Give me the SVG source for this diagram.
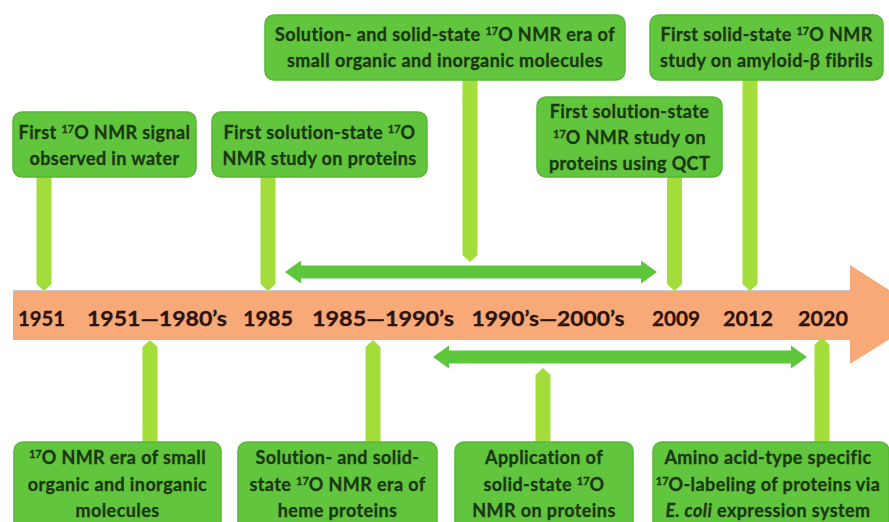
<svg xmlns="http://www.w3.org/2000/svg" width="889" height="522" viewBox="0 0 889 522">
<style>
.box{fill:#61c53d;stroke:#58b736;stroke-width:1.5}
.conn{fill:#a2dd3c}
.harr{fill:#5dc63b}
.bt{font-family:Lato,"Open Sans",sans-serif;font-weight:700;font-size:18px;letter-spacing:0.4px;fill:#1b3710;text-anchor:middle;stroke:#1b3710;stroke-width:0.3}
.sup{font-size:11px;letter-spacing:0}
.yr{font-family:Lato,"Open Sans",sans-serif;font-weight:700;font-size:20px;fill:#2b130a;text-anchor:middle;stroke:#2b130a;stroke-width:0.3}
</style>
<rect width="889" height="522" fill="#ffffff"/>
<g id="timeline">
<path d="M13,290 H850 V265 L928,315 L850,364 V340 H13 Z" fill="#f8a978"/>
<line x1="13" y1="290.5" x2="850" y2="290.5" stroke="#c9c8d6" stroke-width="1"/>
<text class="yr" x="41.5" y="326" textLength="47" lengthAdjust="spacingAndGlyphs">1951</text>
<text class="yr" x="157" y="326" textLength="140" lengthAdjust="spacingAndGlyphs">1951—1980’s</text>
<text class="yr" x="268" y="326" textLength="50" lengthAdjust="spacingAndGlyphs">1985</text>
<text class="yr" x="383" y="326" textLength="142" lengthAdjust="spacingAndGlyphs">1985—1990’s</text>
<text class="yr" x="548" y="326" textLength="153" lengthAdjust="spacingAndGlyphs">1990’s—2000’s</text>
<text class="yr" x="676" y="326" textLength="48" lengthAdjust="spacingAndGlyphs">2009</text>
<text class="yr" x="748" y="326" textLength="50" lengthAdjust="spacingAndGlyphs">2012</text>
<text class="yr" x="823" y="326" textLength="50" lengthAdjust="spacingAndGlyphs">2020</text>
</g>
<g id="connectors">
<path class="conn" d="M36.5,176 H51.5 V284 L44,291 L36.5,284 Z"/>
<path class="conn" d="M260.5,176 H275.5 V284 L268,291 L260.5,284 Z"/>
<path class="conn" d="M462.5,80 H477.5 V255 L470,262 L462.5,255 Z"/>
<path class="conn" d="M667,177 H682 V284 L674.5,291 L667,284 Z"/>
<path class="conn" d="M742.5,80 H757.5 V284 L750,291 L742.5,284 Z"/>
<path class="conn" d="M142.5,442 V347 L150,340 L157.5,347 V442 Z"/>
<path class="conn" d="M365.5,442 V347 L373,340 L380.5,347 V442 Z"/>
<path class="conn" d="M535.5,442 V375 L543,368 L550.5,375 V442 Z"/>
<path class="conn" d="M814.5,442 V345 L822,337 L829.5,345 V442 Z"/>
<path class="harr" d="M285,272 L301,260.5 V265.5 H641 V260.5 L657,272 L641,283.5 V278.5 H301 V283.5 Z"/>
<path class="harr" d="M433,357 L449,345.5 V350.5 H791 V345.5 L807,357 L791,368.5 V363.5 H449 V368.5 Z"/>
</g>
<g id="node-1951">
<rect class="box" x="13" y="112" width="183" height="65" rx="9"/>
<text class="bt" x="104.5" y="139">First <tspan class="sup" dy="-6">17</tspan><tspan dy="6">O NMR signal</tspan></text>
<text class="bt" x="104.5" y="165">observed in water</text>
</g>
<g id="node-1985">
<rect class="box" x="212" y="112" width="215" height="65" rx="9"/>
<text class="bt" x="319.5" y="139">First solution-state <tspan class="sup" dy="-6">17</tspan><tspan dy="6">O</tspan></text>
<text class="bt" x="319.5" y="165">NMR study on proteins</text>
</g>
<g id="node-top-era">
<rect class="box" x="265" y="15" width="360" height="65" rx="9"/>
<text class="bt" x="445" y="41">Solution- and solid-state <tspan class="sup" dy="-6">17</tspan><tspan dy="6">O NMR era of</tspan></text>
<text class="bt" x="445" y="67">small organic and inorganic molecules</text>
</g>
<g id="node-2009">
<rect class="box" x="537" y="97" width="185" height="80" rx="9"/>
<text class="bt" x="629.5" y="118">First solution-state</text>
<text class="bt" x="629.5" y="144"><tspan class="sup" dy="-6">17</tspan><tspan dy="6">O NMR study on</tspan></text>
<text class="bt" x="629.5" y="170">proteins using QCT</text>
</g>
<g id="node-2012">
<rect class="box" x="650" y="15" width="233" height="65" rx="9"/>
<text class="bt" x="766.5" y="41">First solid-state <tspan class="sup" dy="-6">17</tspan><tspan dy="6">O NMR</tspan></text>
<text class="bt" x="766.5" y="67">study on amyloid-β fibrils</text>
</g>
<g id="node-small-molecules">
<rect class="box" x="14" y="442" width="207" height="95" rx="9"/>
<text class="bt" x="117.5" y="464"><tspan class="sup" dy="-6">17</tspan><tspan dy="6">O NMR era of small</tspan></text>
<text class="bt" x="117.5" y="491">organic and inorganic</text>
<text class="bt" x="117.5" y="517">molecules</text>
</g>
<g id="node-heme">
<rect class="box" x="238" y="442" width="199" height="95" rx="9"/>
<text class="bt" x="337.5" y="464">Solution- and solid-</text>
<text class="bt" x="337.5" y="491">state <tspan class="sup" dy="-6">17</tspan><tspan dy="6">O NMR era of</tspan></text>
<text class="bt" x="337.5" y="517">heme proteins</text>
</g>
<g id="node-application">
<rect class="box" x="455" y="442" width="178" height="95" rx="9"/>
<text class="bt" x="544" y="464">Application of</text>
<text class="bt" x="544" y="491">solid-state <tspan class="sup" dy="-6">17</tspan><tspan dy="6">O</tspan></text>
<text class="bt" x="544" y="517">NMR on proteins</text>
</g>
<g id="node-2020">
<rect class="box" x="653" y="442" width="236" height="95" rx="9"/>
<text class="bt" x="768" y="464">Amino acid-type specific</text>
<text class="bt" x="768" y="491"><tspan class="sup" dy="-6">17</tspan><tspan dy="6">O-labeling of proteins via</tspan></text>
<text class="bt" x="768" y="517"><tspan font-style="italic">E. coli</tspan> expression system</text>
</g>
</svg>
